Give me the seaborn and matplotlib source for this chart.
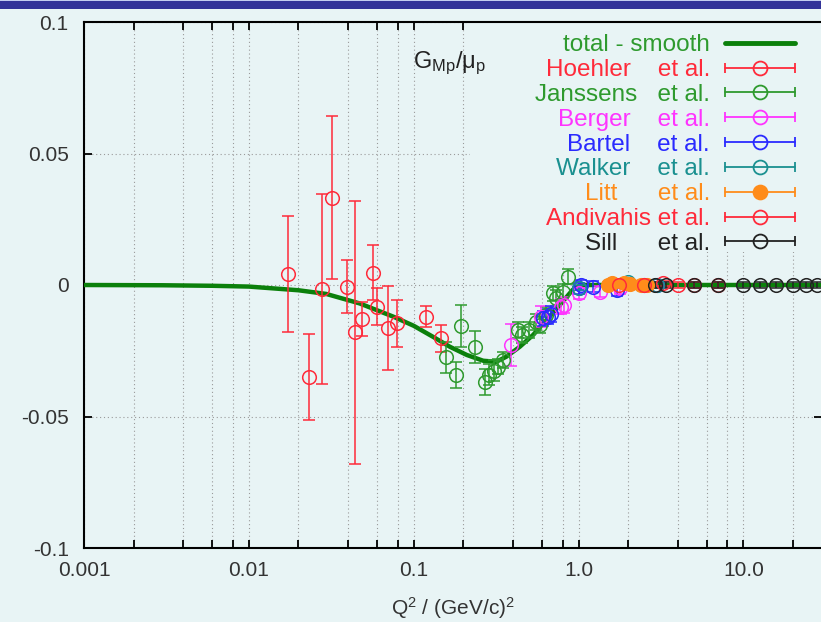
import numpy as np
import pandas as pd
import seaborn as sns
import matplotlib
matplotlib.use("Agg")
import matplotlib.pyplot as plt
from matplotlib.lines import Line2D
from matplotlib.patches import Rectangle
from matplotlib.legend_handler import HandlerBase
from matplotlib.ticker import FixedLocator, NullFormatter

# ---------------- data ----------------
curve_q2 = [0.001, 0.003, 0.006, 0.01, 0.02, 0.0295, 0.047, 0.075, 0.1, 0.131, 0.166,
            0.21, 0.264, 0.317, 0.364, 0.44, 0.53, 0.64, 0.77, 0.92, 1.03, 1.5, 3.0, 10.0, 30.0]
curve_g = [0.0, -0.0001, -0.0003, -0.0006, -0.002, -0.0034, -0.007, -0.012, -0.0155, -0.0197,
           -0.0235, -0.0266, -0.0288, -0.0292, -0.0273, -0.0235, -0.019, -0.0133, -0.0076,
           -0.0019, 0.0, 0.0, 0.0, 0.0, 0.0]

hoehler_q2 = [0.0172, 0.0231, 0.0278, 0.0320, 0.0392, 0.0443, 0.0486, 0.0567, 0.0599, 0.0699, 0.0796, 0.119, 0.147]
hoehler_g = [0.0041, -0.0351, -0.0015, 0.0332, -0.0006, -0.0180, -0.0129, 0.0047, -0.0082, -0.0165, -0.0146, -0.0120, -0.0203]
hoehler_e = [0.022, 0.0163, 0.036, 0.031, 0.010, 0.050, 0.0065, 0.0104, 0.007, 0.016, 0.009, 0.004, 0.005]

janssens_q2 = [0.158, 0.180, 0.195, 0.237, 0.271, 0.285, 0.308, 0.327, 0.346, 0.427, 0.457,
               0.50, 0.55, 0.58, 0.636, 0.70, 0.73, 0.80, 0.86]
janssens_g = [-0.0275, -0.0342, -0.0156, -0.0235, -0.0368, -0.0342, -0.0326, -0.031, -0.0285,
              -0.0171, -0.019, -0.017, -0.014, -0.0152, -0.0114, -0.0032, -0.005, -0.0025, 0.0032]
janssens_e = [0.006, 0.005, 0.008, 0.006, 0.005, 0.004, 0.004, 0.003, 0.003, 0.003, 0.003,
              0.003, 0.003, 0.003, 0.003, 0.003, 0.003, 0.003, 0.003]

berger_q2 = [0.389, 0.59, 0.78, 0.82, 1.0, 1.35, 1.78]
berger_g = [-0.0228, -0.012, -0.0082, -0.0076, -0.0032, -0.0025, -0.0013]
berger_e = [0.008, 0.004, 0.003, 0.003, 0.002, 0.002, 0.002]

bartel_q2 = [0.61, 0.65, 0.68, 1.0, 1.04, 1.22, 1.71, 3.0]
bartel_g = [-0.0127, -0.012, -0.011, -0.0013, 0.0, -0.0006, -0.002, 0.0]
bartel_e = [0.003, 0.003, 0.003, 0.002, 0.002, 0.002, 0.002, 0.001]

walker_q2 = [1.0, 2.0, 2.5, 3.0]
walker_g = [-0.001, 0.001, 0.0, 0.0]
walker_e = [0.001, 0.001, 0.001, 0.001]

litt_q2 = [1.5, 1.6, 1.9, 2.05, 2.4, 2.6]
litt_g = [0.0, 0.0007, 0.0006, 0.0005, 0.0, 0.0]
litt_e = [0.001, 0.001, 0.001, 0.001, 0.001, 0.001]

andivahis_q2 = [1.75, 2.5, 3.25, 4.0, 5.0, 7.0]
andivahis_g = [0.0, 0.0, 0.0006, 0.0, 0.0, 0.0]
andivahis_e = [0.001, 0.001, 0.001, 0.001, 0.001, 0.001]

sill_q2 = [2.9, 3.4, 5.0, 7.0, 9.9, 12.6, 15.8, 19.9, 24.0, 28.0]
sill_g = [0.0, 0.0, 0.0, 0.0, 0.0, 0.0, 0.0, 0.0, 0.0, 0.0]
sill_e = [0.001, 0.001, 0.001, 0.001, 0.001, 0.001, 0.001, 0.001, 0.001, 0.001]

series_names = ["Hoehler", "Janssens", "Berger", "Bartel", "Walker", "Litt", "Andivahis", "Sill"]
series_pad = [4, 3, 4, 4, 4, 6, 1, 6]
series_colors = ["#ff2a3a", "#2e9a2e", "#ff33ff", "#2a2aff", "#1a9090", "#ff8c1a", "#ff2a3a", "#222222"]
series_filled = [False, False, False, False, False, True, False, False]
series_data = [(hoehler_q2, hoehler_g, hoehler_e), (janssens_q2, janssens_g, janssens_e),
               (berger_q2, berger_g, berger_e), (bartel_q2, bartel_g, bartel_e),
               (walker_q2, walker_g, walker_e), (litt_q2, litt_g, litt_e),
               (andivahis_q2, andivahis_g, andivahis_e), (sill_q2, sill_g, sill_e)]

x_major = [0.001, 0.01, 0.1, 1.0, 10.0]
x_major_labels = ["0.001", "0.01", "0.1", "1.0", "10.0"]
x_minor = [0.002, 0.004, 0.006, 0.008, 0.02, 0.04, 0.06, 0.08, 0.2, 0.4, 0.6, 0.8,
           2, 4, 6, 8, 20]
y_ticks = [-0.1, -0.05, 0.0, 0.05, 0.1]
y_labels = ["-0.1", "-0.05", "0", "0.05", "0.1"]

# ---------------- style ----------------
BG = "#e8f4f5"
CURVE = "#0b800b"
sns.set_theme(style="ticks")
plt.rcParams["font.family"] = ["Liberation Sans", "DejaVu Sans"]
plt.rcParams["mathtext.fontset"] = "custom"
plt.rcParams["mathtext.rm"] = "Liberation Sans"
plt.rcParams["mathtext.it"] = "Liberation Sans"
plt.rcParams["mathtext.default"] = "regular"
plt.rcParams["axes.unicode_minus"] = False

fig = plt.figure(figsize=(8.21, 6.22), dpi=100, facecolor=BG)
ax = fig.add_axes([84 / 821, 74 / 622, 738 / 821, 526 / 622])
ax.set_facecolor(BG)
ax.set_axisbelow(True)

# top banner
fig.add_artist(Rectangle((0, 1 - 8.5 / 622), 1, 7.5 / 622, transform=fig.transFigure,
                         facecolor="#333399", edgecolor="none"))
fig.add_artist(Rectangle((0, 1 - 1.2 / 622), 1, 1.2 / 622, transform=fig.transFigure,
                         facecolor="#c4ccf0", edgecolor="none"))

# curve
sns.lineplot(x=curve_q2, y=curve_g, ax=ax, color=CURVE, lw=3.2, sort=False,
             estimator=None, zorder=4)

# data series
for (q, g, e), c, filled in zip(series_data, series_colors, series_filled):
    ax.errorbar(q, g, yerr=e, fmt="o", ms=9.8, mfc=(c if filled else "none"), mec=c,
                mew=1.1, ecolor=c, elinewidth=1.1, capsize=4, capthick=1.1, zorder=5,
                clip_on=True)

ax.set_xscale("log")
ax.set_xlim(0.001, 30)
ax.set_ylim(-0.1, 0.1)
ax.xaxis.set_major_locator(FixedLocator(x_major))
ax.xaxis.set_minor_locator(FixedLocator(x_minor))
ax.xaxis.set_minor_formatter(NullFormatter())
ax.set_xticklabels(x_major_labels)
ax.set_yticks(y_ticks)
ax.set_yticklabels(y_labels)
ax.tick_params(which="both", direction="in", top=True, right=True, length=6, width=1.3,
               color="black", labelsize=15, labelcolor="#333333")
ax.tick_params(axis="x", which="both", pad=9)
ax.tick_params(axis="y", which="both", pad=11)
for s in ax.spines.values():
    s.set_linewidth(1.5)
    s.set_color("black")
ax.grid(True, which="both", axis="x", ls=(0, (1, 2.5)), color="#9a9a9a", lw=0.8)
ax.grid(True, which="major", axis="y", ls=(0, (1, 2.5)), color="#9a9a9a", lw=0.8)

ax.set_xlabel(r"Q$^2$ / (GeV/c)$^2$", fontsize=15, color="#333333", labelpad=11)

ax.text(0.446, 0.912, r"G$_{Mp}$/$\mu_p$", transform=ax.transAxes, fontsize=17,
        color="#222222", va="baseline", ha="left")

# opaque key area
ax.add_patch(Rectangle((0.523, 0.563), 0.48, 0.44, transform=ax.transAxes,
                       facecolor=BG, edgecolor="none", zorder=1))


class GnuErrHandler(HandlerBase):
    def create_artists(self, legend, orig, xd, yd, w, h, fs, trans):
        c = orig.get_color()
        filled = orig.get_markerfacecolor() not in ("none", "None")
        y = h / 2 - yd
        x0, x1 = -xd, -xd + w
        ln = Line2D([x0, x1], [y, y], color=c, lw=1.3, transform=trans)
        caps = Line2D([x0, x1], [y, y], ls="none", marker="|", ms=7, mew=1.3,
                      color=c, transform=trans)
        mk = Line2D([(x0 + x1) / 2], [y], ls="none", marker="o", ms=10,
                    mfc=(c if filled else "none"), mec=c, mew=1.3, transform=trans)
        return [ln, caps, mk]


handles = [Line2D([], [], color=CURVE, lw=3.5)]
labels = ["total - smooth"]
hmap = {}
for n, p, c, f in zip(series_names, series_pad, series_colors, series_filled):
    h = Line2D([], [], color=c, marker="o", mfc=(c if f else "none"), mec=c)
    handles.append(h)
    hmap[h] = GnuErrHandler()
    labels.append(n + " " * p + "et al.")

leg = ax.legend(handles, labels, handler_map=hmap, loc="upper right",
                bbox_to_anchor=(0.9634, 0.9767), frameon=False, markerfirst=False,
                borderpad=0, borderaxespad=0, handlelength=2.9, handletextpad=0.6,
                labelspacing=0.116, fontsize=17.5, handleheight=0.7)
leg.set_zorder(6)
text_colors = ["#2e9a2e"] + series_colors
for t, c in zip(leg.get_texts(), text_colors):
    t.set_color(c)

fig.savefig("out.png", dpi=100, facecolor=BG)
